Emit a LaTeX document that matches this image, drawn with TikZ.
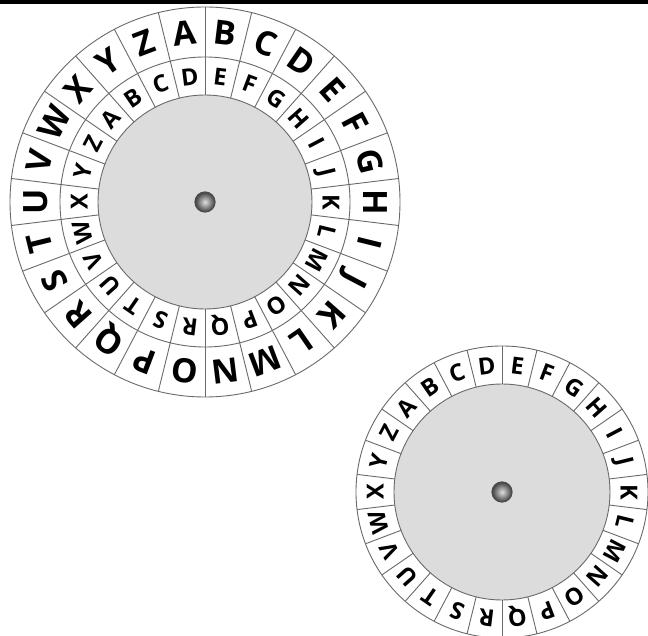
\documentclass[tikz,border=0pt]{standalone}
\usepackage{fontspec}
\newfontfamily\wheelfont{Open Sans}
\definecolor{discgray}{HTML}{DCDCDC}
\definecolor{linegray}{HTML}{6A6A6A}
\tikzset{
  ring/.style={draw=linegray, line width=0.9pt},
  bigletter/.style={inner sep=0pt, text height=24pt, text depth=0pt,
    font=\wheelfont\bfseries\fontsize{33.5}{33.5}\selectfont},
  smallletter/.style={inner sep=0pt, text height=17pt, text depth=0pt,
    font=\wheelfont\bfseries\fontsize{23.5}{23.5}\selectfont},
  hub/.style={inner color=gray!25, outer color=black!75},
}
\begin{document}
\begin{tikzpicture}[x=1pt,y=1pt]
\useasboundingbox (0,0) rectangle (648,635);
\clip (0,0) rectangle (648,635);
\fill[white] (0,0) rectangle (648,635);
\fill[black] (0,631) rectangle (648,635);
% ---------- big wheel ----------
\begin{scope}[shift={(205,433)}]
  \draw[ring] (0,0) circle (195);
  \draw[ring] (0,0) circle (145);
  \filldraw[ring, fill=discgray] (0,0) circle (107);
  \foreach \k in {0,...,25}
    \draw[ring] (90+\k*13.84615:107) -- (90+\k*13.84615:195);
  \foreach \L [count=\i from 0] in {A,B,C,D,E,F,G,H,I,J,K,L,M,N,O,P,Q,R,S,T,U,V,W,X,Y,Z} {
    \pgfmathsetmacro\t{96.923-\i*13.84615}
    \node[bigletter, rotate=\t-90] (bo\i) at (\t:170) {\L};
    \pgfmathsetmacro\u{96.923-(\i-3)*13.84615}
    \node[smallletter, rotate=\u-90] (bi\i) at (\u:126) {\L};
  }
  \shade[hub] (0,0) circle (10);
  \node[circle, draw=black!70, line width=1.2pt, minimum size=20pt, inner sep=0pt] (bhub) at (0,0) {};
\end{scope}
% ---------- small wheel ----------
\begin{scope}[shift={(502,143)}]
  \draw[ring] (0,0) circle (146);
  \filldraw[ring, fill=discgray] (0,0) circle (108);
  \foreach \k in {0,...,25}
    \draw[ring] (90+\k*13.84615:108) -- (90+\k*13.84615:146);
  \foreach \L [count=\i from 0] in {A,B,C,D,E,F,G,H,I,J,K,L,M,N,O,P,Q,R,S,T,U,V,W,X,Y,Z} {
    \pgfmathsetmacro\u{96.923-(\i-3)*13.84615}
    \node[smallletter, rotate=\u-90] (si\i) at (\u:127) {\L};
  }
  \shade[hub] (0,0) circle (10);
  \node[circle, draw=black!70, line width=1.2pt, minimum size=20pt, inner sep=0pt] (shub) at (0,0) {};
\end{scope}
\end{tikzpicture}
\end{document}
